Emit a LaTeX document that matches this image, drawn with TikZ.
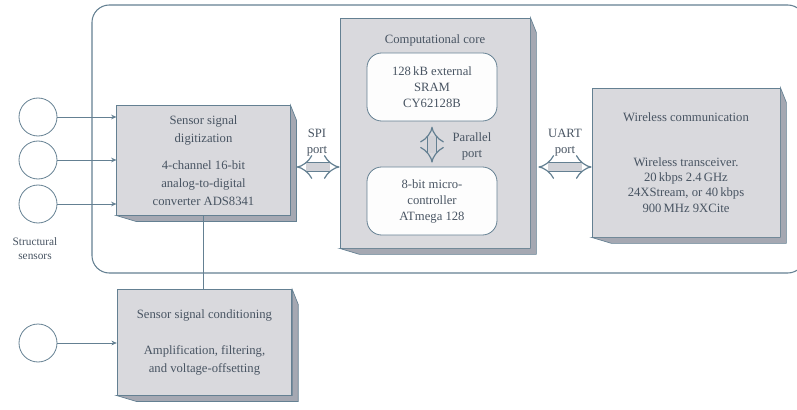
\documentclass[tikz,border=0pt]{standalone}
\usepackage{fontspec}
\setmainfont{Liberation Serif}
\usetikzlibrary{arrows.meta,calc}
\definecolor{boxgray}{RGB}{217,217,221}
\definecolor{slabgray}{RGB}{165,168,178}
\definecolor{edgeblue}{RGB}{100,128,146}
\definecolor{inkgray}{RGB}{72,84,98}
% extruded right and bottom face of a block
\newcommand{\slab}[1]{\filldraw[fill=slabgray, draw=edgeblue, line width=0.5pt] (#1.north east) -- ++(6,15) -- ($(#1.south east)+(6,6)$) -- ($(#1.south west)+(20,6)$) -- (#1.south west) -- (#1.south east) -- cycle;}

\begin{document}
\begin{tikzpicture}[x=0.75pt, y=-0.75pt, font=\fontsize{9.5}{13.5}\selectfont, text=inkgray,
    block/.style={draw=edgeblue, line width=0.6pt, fill=boxgray, align=center, inner sep=2pt},
    memory/.style={draw=edgeblue, line width=0.6pt, fill=white!94!boxgray, rounded corners=11pt, align=center, minimum width=97.5pt, minimum height=51pt, font=\fontsize{9.5}{12}\selectfont},
    sensor/.style={circle, draw=edgeblue, line width=0.6pt, minimum size=28.5pt, inner sep=0pt},
    feed/.style={draw=edgeblue, line width=0.6pt, -{Stealth[length=4pt,width=3.5pt]}},
    port/.style={draw=edgeblue, line width=0.9pt, double=boxgray!85!slabgray, double distance=5.5pt, {Implies[length=5pt]}-{Implies[length=5pt]}},
    frame/.style={draw=edgeblue, line width=0.8pt, rounded corners=13pt}]
    \useasboundingbox (0,0) rectangle (797,410);

    % node frame
    \draw[frame] (92,5) rectangle (805,273);

    % sensors
    \node[sensor] (s1) at (38,117) {};
    \node[sensor] (s2) at (38,160) {};
    \node[sensor] (s3) at (38,204) {};
    \node[sensor] (s4) at (38,343) {};
    \node[align=center, font=\fontsize{8.5}{10.5}\selectfont] (sensorlabel) at (35,249) {Structural\\sensors};

    % blocks
    \node[block, minimum width=130pt, minimum height=82pt] (dig) at (203.5,160.5) {Sensor signal\\digitization\\[7pt]4-channel 16-bit\\analog-to-digital\\converter ADS8341};
    \node[block, minimum width=131pt, minimum height=79pt] (cond) at (204.5,342.5) {Sensor signal conditioning\\[14pt]Amplification, filtering,\\and voltage-offsetting};
    \node[block, minimum width=142.5pt, minimum height=172.5pt] (core) at (435,133) {};
    \node[block, minimum width=141pt, minimum height=111.75pt, font=\fontsize{9.5}{11.5}\selectfont] (wire) at (686,162.5) {Wireless communication\\[22pt]Wireless transceiver.\\20\,kbps 2.4\,GHz\\24XStream, or 40\,kbps\\900\,MHz 9XCite};
    \slab{dig}
    \slab{cond}
    \slab{core}
    \slab{wire}

    % computational core
    \node (coretitle) at (435,40) {Computational core};
    \node[memory] (sram) at (432,87) {128\,kB external\\SRAM\\CY62128B};
    \node[memory] (mcu) at (432,201) {8-bit micro-\\controller\\ATmega 128};

    % connections
    \draw[feed] (s1) -- (s1 -| dig.west);
    \draw[feed] (s2) -- (s2 -| dig.west);
    \draw[feed] (s3) -- (s3 -| dig.west);
    \draw[feed] (s4) -- (s4 -| cond.west);
    \draw[draw=edgeblue, line width=0.6pt] (dig.south) -- (dig.south |- cond.north);

    \coordinate (spi) at ($(dig.east)+(6,6.5)$);
    \draw[port] (spi) -- (spi -| core.west);
    \coordinate (uart) at ($(core.east)+(8,34)$);
    \draw[port] (uart) -- (uart -| wire.west);
    \draw[port, shorten <=4pt, shorten >=3pt] (sram) -- (mcu);

    \node[align=center, font=\fontsize{9.5}{12}\selectfont] (spilabel) at (317,143) {SPI\\port};
    \node[align=center, font=\fontsize{9.5}{12}\selectfont] (uartlabel) at (565,143) {UART\\port};
    \node[align=center, font=\fontsize{9.5}{12}\selectfont] (parlabel) at (472,146) {Parallel\\port};
\end{tikzpicture}
\end{document}
